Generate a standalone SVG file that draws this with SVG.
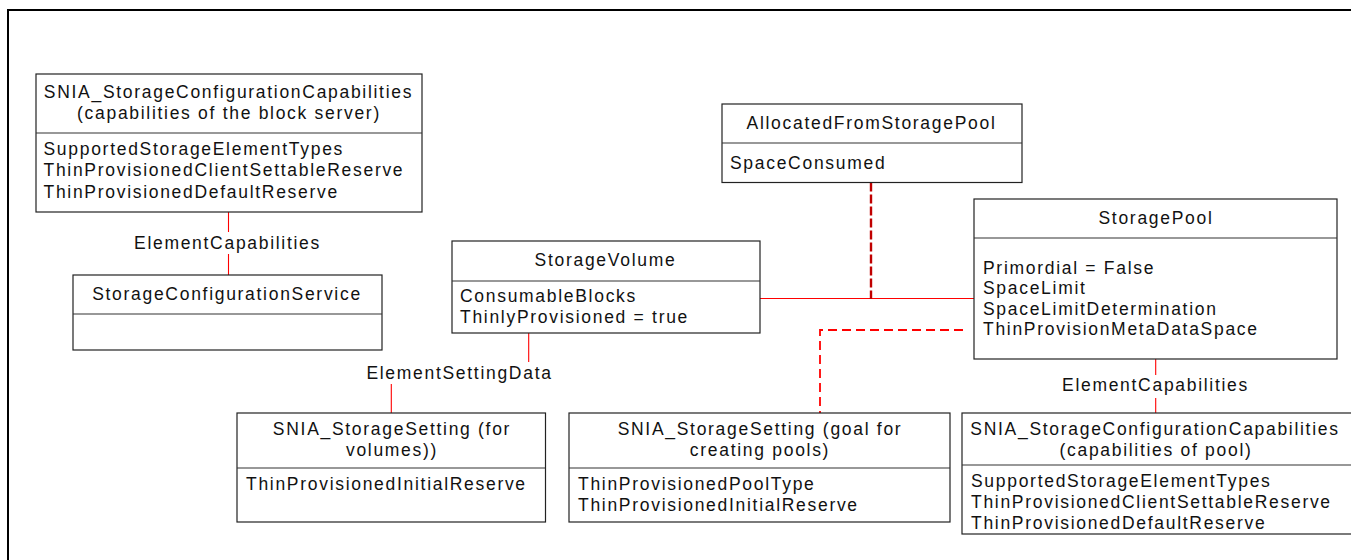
<svg xmlns="http://www.w3.org/2000/svg" width="1351" height="560" viewBox="0 0 1351 560">
<style>
.box{fill:#fff;stroke:#222;stroke-width:1.2}
.div{stroke:#333;stroke-width:1.2}
text{font-family:"Liberation Sans",Arial,sans-serif;font-size:17.5px;letter-spacing:1.7px;fill:#111}
.c{text-anchor:middle}
.rel{stroke:#ff0000;stroke-width:1.1;fill:none}
.assoc{stroke:#c00000;stroke-width:2.4;stroke-dasharray:9 3;fill:none}
.dash{stroke:#ff0000;stroke-width:1.8;stroke-dasharray:9 5;fill:none}
</style>
<rect x="8" y="10" width="1400" height="600" fill="#fff" stroke="#000" stroke-width="2"/>
<g id="connectors">
<line class="rel" x1="228.5" y1="212" x2="228.5" y2="232"/>
<line class="rel" x1="228.5" y1="254" x2="228.5" y2="275"/>
<text class="c" x="227.5" y="249">ElementCapabilities</text>
<line class="rel" x1="760" y1="298.5" x2="974" y2="298.5"/>
<line class="assoc" x1="871" y1="182.5" x2="871" y2="299"/>
<path class="dash" d="M963,330 H820 V413"/>
<line class="rel" x1="528.7" y1="333" x2="528.7" y2="362"/>
<line class="rel" x1="391.3" y1="384" x2="391.3" y2="413"/>
<text class="c" x="459.5" y="379">ElementSettingData</text>
<line class="rel" x1="1155.7" y1="359" x2="1155.7" y2="375"/>
<line class="rel" x1="1155.7" y1="398" x2="1155.7" y2="413"/>
<text class="c" x="1155.5" y="391">ElementCapabilities</text>
</g>
<g id="blockCapabilities">
<rect class="box" x="36" y="74" width="386" height="138"/>
<line class="div" x1="36" y1="133" x2="422" y2="133"/>
<text class="c" x="228.5" y="98">SNIA_StorageConfigurationCapabilities</text>
<text class="c" x="229" y="119">(capabilities of the block server)</text>
<text x="43.5" y="155">SupportedStorageElementTypes</text>
<text x="43.5" y="176">ThinProvisionedClientSettableReserve</text>
<text x="43.5" y="198">ThinProvisionedDefaultReserve</text>
</g>
<g id="configService">
<rect class="box" x="73" y="275" width="309" height="75"/>
<line class="div" x1="73" y1="314" x2="382" y2="314"/>
<text class="c" x="227" y="300">StorageConfigurationService</text>
</g>
<g id="allocated">
<rect class="box" x="722" y="104" width="300" height="78.5"/>
<line class="div" x1="722" y1="143" x2="1022" y2="143"/>
<text class="c" x="871.5" y="128.5">AllocatedFromStoragePool</text>
<text x="730" y="168.5">SpaceConsumed</text>
</g>
<g id="storageVolume">
<rect class="box" x="452" y="241" width="308" height="92"/>
<line class="div" x1="452" y1="281" x2="760" y2="281"/>
<text class="c" x="605.5" y="266">StorageVolume</text>
<text x="460" y="302">ConsumableBlocks</text>
<text x="460" y="323">ThinlyProvisioned = true</text>
</g>
<g id="storagePool">
<rect class="box" x="974" y="199" width="363" height="160"/>
<line class="div" x1="974" y1="238" x2="1337" y2="238"/>
<text class="c" x="1156" y="223.5">StoragePool</text>
<text x="983" y="273.5">Primordial = False</text>
<text x="983" y="293.5">SpaceLimit</text>
<text x="983" y="314.7">SpaceLimitDetermination</text>
<text x="983" y="335.3">ThinProvisionMetaDataSpace</text>
</g>
<g id="poolCapabilities">
<rect class="box" x="962" y="413" width="420" height="121"/>
<line class="div" x1="962" y1="465" x2="1382" y2="465"/>
<text class="c" x="1155" y="434.5">SNIA_StorageConfigurationCapabilities</text>
<text class="c" x="1156" y="455.5">(capabilities of pool)</text>
<text x="971" y="487">SupportedStorageElementTypes</text>
<text x="971" y="508.3">ThinProvisionedClientSettableReserve</text>
<text x="971" y="528.7">ThinProvisionedDefaultReserve</text>
</g>
<g id="volumeSetting">
<rect class="box" x="237" y="413" width="308.5" height="109"/>
<line class="div" x1="237" y1="468" x2="545.5" y2="468"/>
<text class="c" x="392" y="435.3">SNIA_StorageSetting (for</text>
<text class="c" x="392" y="456">volumes))</text>
<text x="246" y="490.3">ThinProvisionedInitialReserve</text>
</g>
<g id="poolSetting">
<rect class="box" x="569" y="413" width="381" height="109"/>
<line class="div" x1="569" y1="468" x2="950" y2="468"/>
<text class="c" x="760" y="435.3">SNIA_StorageSetting (goal for</text>
<text class="c" x="760" y="456">creating pools)</text>
<text x="578" y="490.3">ThinProvisionedPoolType</text>
<text x="578" y="511">ThinProvisionedInitialReserve</text>
</g>
</svg>
